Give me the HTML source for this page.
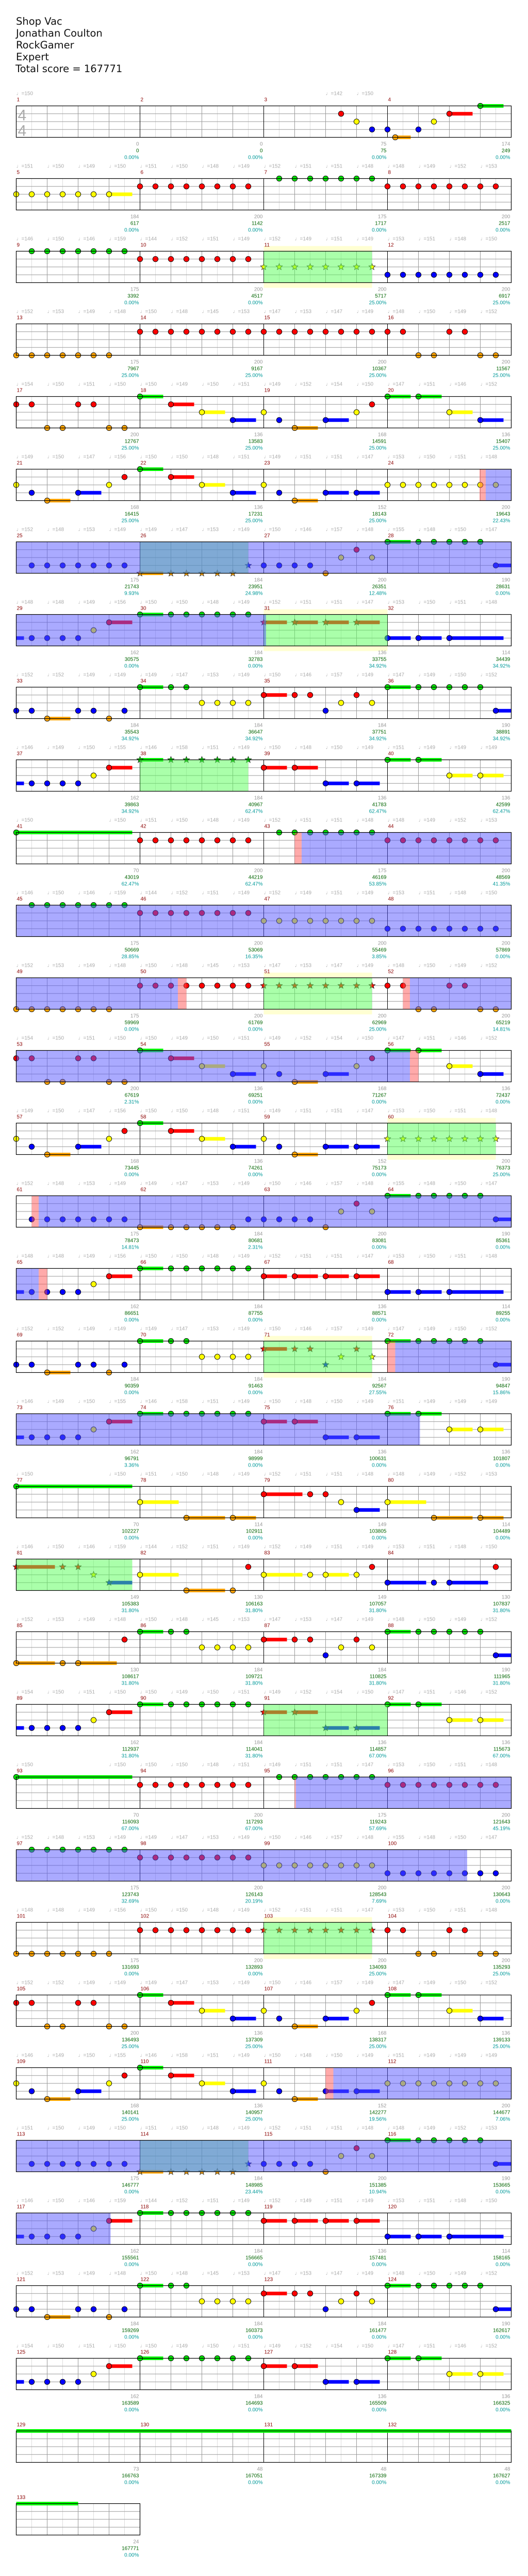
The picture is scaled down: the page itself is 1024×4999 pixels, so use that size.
<!DOCTYPE html>
<html><head><meta charset="utf-8">
<style>
html,body{margin:0;padding:0;background:#fff;width:1024px;height:4999px;overflow:hidden;}
body{position:relative;}
#hdr{position:absolute;left:31px;top:0;font-family:"DejaVu Sans","Liberation Sans",sans-serif;font-size:19.5px;color:#111;z-index:2;}
#hdr div{position:absolute;left:0;white-space:nowrap;}
#wrap{position:absolute;left:0;top:0;width:1024px;height:4999px;overflow:hidden;}
#wrap svg{display:block;}
</style></head>
<body>
<div id="wrap"></div>
<div id="hdr">
<div style="top:30px">Shop Vac</div>
<div style="top:53px">Jonathan Coulton</div>
<div style="top:76px">RockGamer</div>
<div style="top:99px">Expert</div>
<div style="top:122px;left:-1px">Total score = 167771</div>
</div>
<script>
(function(){
var X0=31.5,SX=15,TOP0=205.5,PITCH=141,H=61,LS=H/4;
var COL={g:'#00e000',r:'#ff0000',y:'#ffff00',b:'#0000ff',o:'#ffa500'};
var SUS={g:'#00ff00',r:'#ff0000',y:'#ffff00',b:'#0000ff',o:'#ffa500'};
var LANE={g:0,r:1,y:2,b:3,o:4};
var R14="r0 r2 o4 o6 r8 r10 o12 o14 g16-3 r20-3 y24-3 b28-3 y32 b34 o36-3 b40-3 y44 r46 g48-3 g52-3 y56-3 b60-3";
var R7="B0-64 G16-30 b2..14 o16-3* o20..28* b30* b32..38 o40 y42 r44 y46 g48-3 g52..60 b62-3";
var R9="b0 b2 o4-3 b8 b10 o12 b14 g16-3 g20 g22 y24..30 r32-3 r36 r38 b40 y42 r44 y46 g48-3 g52..60 b62-3";
var ROWS=[
"r42 y44 b46 b48 o49-2 b52 y54 r56-3 g60-3",
"y0..10 y12-3 r16..30 g34..46 r48..62",
"g2..14 r16..30 Y32-46 y32..46* b48..62",
"o0..12 r16..50 r56 r58 o52 o54 o60 o62",
"r0 r2 o4 o6 r8 r10 o12 o14 g16-3 r20-3 y24-3 b28-3 y32 b34 o36-3 b40-3 y44 r46 g48-3 g52-3 y56-3 b60-3",
"y0 b2 o4-3 b8-3 y12 r14 g16-3 r20-3 y24-3 b28-3 y32 b34 o36-3 b40-3 b44-3 y48..60 y62 P59.9-60.7 B60.7-64",
R7,
"B0-32.3 ~b0-1 b2..8 y10 r12-3 g16-3 g20..30 Y32-48 r32-3* r36-3* r40-3* r44-3* b48-3 b52-3 b56-7",
R9,
"~b0-1 b2..8 y10 r12-3 G16-30 g16-3* g20..30* r32-3 r36-3 b40-3 b44-3 g48-3 g52-3 y56-3 y60-3",
"g0-15 r16..30 g34..46 P36-36.9 B36.9-64 r48..62",
"B0-64 g2..14 r16..30 y32..46 b48..62",
"B0-20.9 P20.9-22 o0..12 r16..30 Y32-46 r32..46* r48 r50 P50-50.9 B50.9-64 r56 r58 o52 o54 o60 o62",
"B0-50.9 P50.9-52 "+R14,
"y0 b2 o4-3 b8-3 y12 r14 g16-3 r20-3 y24-3 b28-3 y32 b34 o36-3 b40-3 b44-3 Y48-62 y48..62*",
"P2-2.9 B2.9-64 b2..14 o16-3 o20..28 b30 b32..38 o40 y42 r44 y46 g48-3 g52..60 b62-3",
"B0-2.9 P2.9-4 ~b0-1 b2..8 y10 r12-3 g16-3 g20..30 r32-3 r36-3 r40-3 r44-3 b48-3 b52-3 b56-7",
"b0 b2 o4-3 b8 b10 o12 b14 g16-3 g20 g22 y24..30 Y32-46 r32-3* r36* r38* b40* y42* r44* y46* g48-3 P48-49 B49-64 g52..60 b62-3",
"B0-52.2 ~b0-1 b2..8 y10 r12-3 g16-3 g20..30 r32-3 r36-3 b40-3 b44-3 g48-3 g52-3 y56-3 y60-3",
"g0-15 y16-5 o22-5 o28-3 r32-5 r38 r40 y42 b44-3 y48-5 o54-5 o60-3",
"G0-15 r0-5* r6* r8* y10* b12-3* y16-5 o22-5 o28 r30 y32-5 y38 y40-3 y44 r46 b48-5 b54 b56-5 r62",
"o0-5 o6 o8-5 r14 g16-3 g20 g22 y24..30 r32-3 r36 r38 b40 y42 r44 y46 g48-3 g52..60 b62-3",
"~b0-1 b2..8 y10 r12-3 g16-3 g20..30 G32-48 r32-3* r36-3* b40-3* b44-3* g48-3 g52-3 y56-3 y60-3",
"g0-15 r16..30 g34..46 P36-36.15 B36.15-64 r48..62",
"B0-58.3 g2..14 r16..30 y32..46 b48..62",
"o0..12 r16..30 Y32-46 r32..46* r48 r50 r56 r58 o52 o54 o60 o62",
R14,
"y0 b2 o4-3 b8-3 y12 r14 g16-3 r20-3 y24-3 b28-3 y32 b34 o36-3 P40-41 B41-64 b40-3 b44-3 y48..62",
R7,
"B0-12.2 ~b0-1 b2..8 y10 r12-3 g16-3 g20..30 r32-3 r36-3 r40-3 r44-3 b48-3 b52-3 b56-7",
R9,
"~b0-1 b2..8 y10 r12-3 g16-3 g20..30 r32-3 r36-3 b40-3 b44-3 g48-3 g52-3 y56-3 y60-3",
"~g0-64",
"~g0-8"
];
var SC=("0,0,0.00|0,0,0.00|75,75,0.00|174,249,0.00|184,617,0.00|200,1142,0.00|175,1717,0.00|200,2517,0.00|175,3392,0.00|200,4517,0.00|200,5717,25.00|200,6917,25.00|175,7967,25.00|200,9167,25.00|200,10367,25.00|200,11567,25.00|200,12767,25.00|136,13583,25.00|168,14591,25.00|136,15407,25.00|168,16415,25.00|136,17231,25.00|152,18143,25.00|200,19643,22.43|175,21743,9.93|184,23951,24.98|200,26351,12.48|190,28631,0.00|162,30575,0.00|184,32783,0.00|136,33755,34.92|114,34439,34.92|184,35543,34.92|184,36647,34.92|184,37751,34.92|190,38891,34.92|162,39863,34.92|184,40967,62.47|136,41783,62.47|136,42599,62.47|70,43019,62.47|200,44219,62.47|175,46169,53.85|200,48569,41.35|175,50669,28.85|200,53069,16.35|200,55469,3.85|200,57869,0.00|175,59969,0.00|200,61769,0.00|200,62969,25.00|200,65219,14.81|200,67619,2.31|136,69251,0.00|168,71267,0.00|136,72437,0.00|168,73445,0.00|136,74261,0.00|152,75173,0.00|200,76373,25.00|175,78473,14.81|184,80681,2.31|200,83081,0.00|190,85361,0.00|162,86651,0.00|184,87755,0.00|136,88571,0.00|114,89255,0.00|184,90359,0.00|184,91463,0.00|184,92567,27.55|190,94847,15.86|162,96791,3.36|184,98999,0.00|136,100631,0.00|136,101807,0.00|70,102227,0.00|114,102911,0.00|149,103805,0.00|114,104489,0.00|149,105383,31.80|130,106163,31.80|149,107057,31.80|130,107837,31.80|130,108617,31.80|184,109721,31.80|184,110825,31.80|190,111965,31.80|162,112937,31.80|184,114041,31.80|136,114857,67.00|136,115673,67.00|70,116093,67.00|200,117293,67.00|175,119243,57.69|200,121643,45.19|175,123743,32.69|200,126143,20.19|200,128543,7.69|200,130643,0.00|175,131693,0.00|200,132893,0.00|200,134093,25.00|200,135293,25.00|200,136493,25.00|136,137309,25.00|168,138317,25.00|136,139133,25.00|168,140141,25.00|136,140957,25.00|152,142277,19.56|200,144677,7.06|175,146777,0.00|184,148985,23.44|200,151385,10.94|190,153665,0.00|162,155561,0.00|184,156665,0.00|136,157481,0.00|114,158165,0.00|184,159269,0.00|184,160373,0.00|184,161477,0.00|190,162617,0.00|162,163589,0.00|184,164693,0.00|136,165509,0.00|136,166325,0.00|73,166763,0.00|48,167051,0.00|48,167339,0.00|48,167627,0.00|24,167771,0.00").split('|');
var TP=[[146,149,150,155,146,158,151,149,150,148,150,149,151,149,149,149],
[151,150,149,150,151,150,148,149,152,151,151,148,148,149,152,153],
[146,150,146,159,144,152,151,149,152,149,151,149,153,151,148,150],
[152,153,149,148,150,148,145,153,147,153,147,149,148,150,149,152],
[154,150,151,150,150,149,150,151,149,152,154,150,147,151,146,152],
[149,150,147,156,150,150,148,151,149,151,151,147,153,150,151,148],
[152,148,153,149,149,147,153,149,150,146,157,148,155,148,150,147],
[148,148,149,156,150,150,148,149,152,151,151,147,153,150,151,148],
[152,152,149,149,149,147,153,149,150,146,157,149,147,149,150,152]];
var out=[];
var t=function(x,y,s,c,a,fs){out.push('<text x="'+x+'" y="'+y+'" fill="'+c+'" font-size="'+(fs||10)+'" text-anchor="'+(a||'start')+'">'+s+'</text>');};
var star=function(cx,cy,R,r,f){var p=[];for(var i=0;i<10;i++){var a=-Math.PI/2+i*Math.PI/5,rr=(i%2)?r:R;p.push((cx+rr*Math.cos(a)).toFixed(1)+','+(cy+rr*Math.sin(a)).toFixed(1));}
 out.push('<polygon points="'+p.join(' ')+'" fill="'+f+'" stroke="#222" stroke-width="0.8"/>');};
var X=function(p){return X0+p*SX;};
var rect=function(x,y,w,h,f,op){out.push('<rect x="'+x.toFixed(2)+'" y="'+y.toFixed(2)+'" width="'+Math.max(0,w).toFixed(2)+'" height="'+h.toFixed(2)+'" fill="'+f+'"'+(op?' fill-opacity="'+op+'"':'')+'/>');};
var line=function(x1,y1,x2,y2,c){out.push('<line x1="'+x1+'" y1="'+y1+'" x2="'+x2+'" y2="'+y2+'" stroke="'+c+'" stroke-width="1"/>');};
var drawRow=function(ri){
 var top=TOP0+ri*PITCH, nm=(ri==33)?1:4, W=nm*240, bot=top+H;
 var toks=ROWS[ri].split(/\s+/), areas=[], notes=[];
 for(var ti=0;ti<toks.length;ti++){ var k=toks[ti]; if(!k)continue; var c=k.charAt(0);
  if('GYBP'.indexOf(c)>=0){var m=k.substring(1).split('-');areas.push([c,parseFloat(m[0]),parseFloat(m[1])]);continue;}
  var tail=false; if(c=='~'){tail=true;k=k.substring(1);c=k.charAt(0);}
  var st=k.indexOf('*')>=0; k=k.replace('*','');
  var body=k.substring(1);
  if(body.indexOf('..')>=0){var q=body.split('..');for(var p=parseFloat(q[0]);p<=parseFloat(q[1]);p+=2)notes.push({l:c,p:p,len:0,st:st,tail:false});}
  else {var q2=body.split('-');notes.push({l:c,p:parseFloat(q2[0]),len:q2[1]?parseFloat(q2[1]):0,st:st,tail:tail});}
 }
 var i,a,n;
 for(i=0;i<areas.length;i++){a=areas[i];if(a[0]=='Y')rect(X(a[1]),top-10,(a[2]-a[1])*SX,H+20,'#ffffd2');}
 rect(X0,top,W,H,'#ffffff');
 for(var e=1;e<nm*8;e++){if(e%8==0)continue;var xx=X(e*2);line(xx,top,xx,bot,(e%2==0)?'#999':'#ddd');}
 for(var l=1;l<4;l++){var yy=top+l*LS;line(X0,yy,X0+W,yy,'#999');}
 for(var mm=1;mm<nm;mm++){var mx=X(mm*16);line(mx,top,mx,bot,'#000');}
 for(i=0;i<notes.length;i++){n=notes[i];if(n.len){var y=top+LANE[n.l]*LS;var x1=X(n.p),x2=Math.min(X(n.p+n.len),X0+W);rect(x1,y-3.5,x2-x1,7,SUS[n.l]);}}
 for(i=0;i<notes.length;i++){n=notes[i];if(n.tail)continue;var y2=top+LANE[n.l]*LS,x=X(n.p);
  if(n.st)star(x,y2,6.5,2.8,COL[n.l]); else out.push('<circle cx="'+x+'" cy="'+y2+'" r="5.2" fill="'+COL[n.l]+'" stroke="#000" stroke-width="0.9"/>');}
 for(i=0;i<areas.length;i++){a=areas[i];if(a[0]=='G'||a[0]=='Y')rect(X(a[1]),top,(a[2]-a[1])*SX,H,'#55ff55',0.5);}
 for(i=0;i<areas.length;i++){a=areas[i];if(a[0]=='B')rect(X(a[1]),top,(a[2]-a[1])*SX,H,'#5555ff',0.5);}
 for(i=0;i<areas.length;i++){a=areas[i];if(a[0]=='P')rect(X(a[1]),top,(a[2]-a[1])*SX,H,'#ff5555',0.5);}
 out.push('<rect x="'+X0+'" y="'+top+'" width="'+W+'" height="'+H+'" fill="none" stroke="#000" stroke-width="1.2"/>');
 for(var m2=0;m2<nm;m2++){var mn=ri*4+m2+1, mx2=X(m2*16);
  t(mx2+1,top-9,mn,'#8b0000');
  var sc=(SC[mn-1]||'0,0,0.00').split(','), ex=mx2+240-2;
  t(ex,top+H+16,sc[0],'#999','end'); t(ex,top+H+29,sc[1],'#006400','end'); t(ex,top+H+42,sc[2]+'%','#009999','end');
  var tp=TP[ri%TP.length];
  var special=(ri==10||ri==19||ri==23)&&m2==0;
  for(var b=0;b<4;b++){
   var show=true;
   if(ri==0){show=(m2==0&&b==0)||(m2==2&&(b==2||b==3));}
   if(ri>=32)show=false;
   if(special&&(b==1||b==2))show=false;
   if(show){var val=(ri==0)?((m2==2&&b==2)?142:150):(special?150:tp[m2*4+b]);
    t(mx2+b*60,top-21,'&#9833;='+val,'#aaa');}
  }
 }
 if(ri==0){t(X0+3,top+28,'4','#aaa','start',30);t(X0+3,top+58,'4','#aaa','start',30);}
};
for(var ri=0;ri<34;ri++){try{drawRow(ri);}catch(err){}}
var svg='<svg width="1024" height="4999" viewBox="0 0 1024 4999" xmlns="http://www.w3.org/2000/svg" style="display:block"><g font-family="Liberation Sans, DejaVu Sans, sans-serif">'+out.join('')+'</g></svg>';
document.getElementById('wrap').innerHTML=svg;
})();
</script>
</body></html>
